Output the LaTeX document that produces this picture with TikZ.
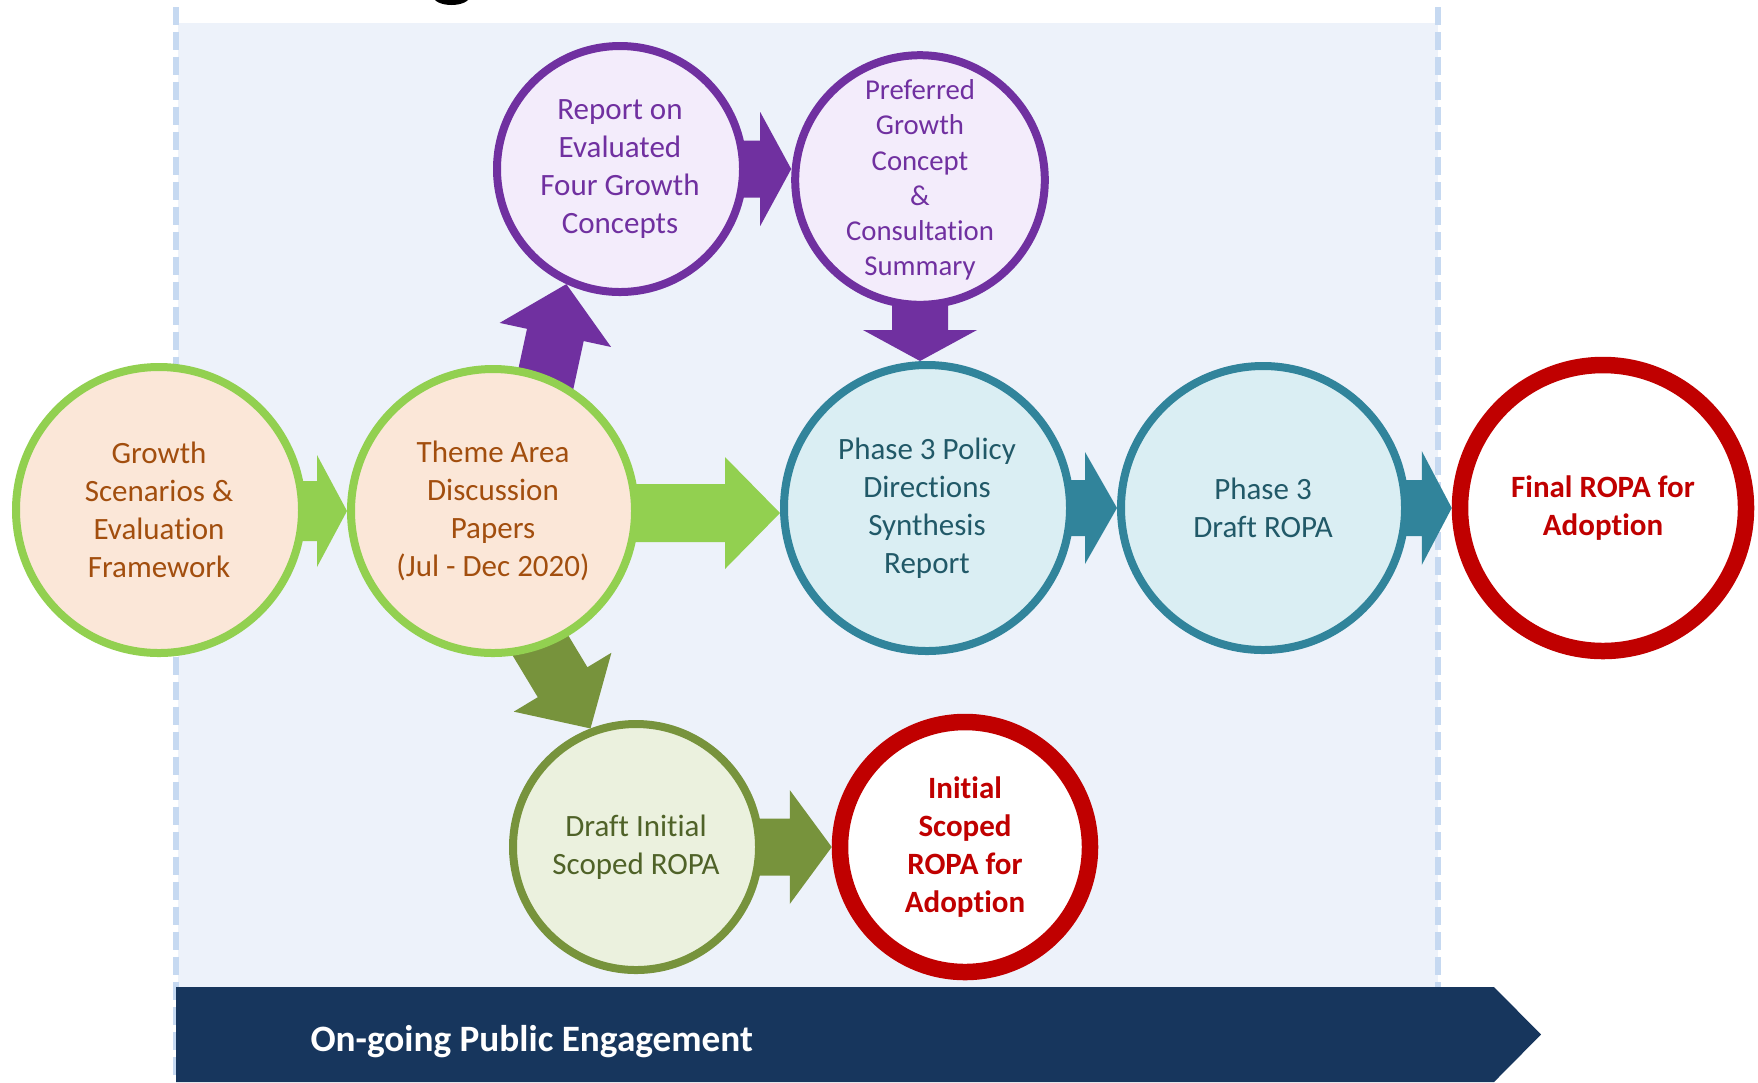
\documentclass[tikz,border=0pt]{standalone}
\usepackage{fontspec}
\setmainfont{Carlito}[Ligatures=NoCommon]
\usetikzlibrary{calc}
\pgfdeclarelayer{bglayer}
\pgfdeclarelayer{arrlayer}
\pgfsetlayers{bglayer,arrlayer,main}
\definecolor{panelc}{HTML}{EDF2FA}
\definecolor{dashc}{HTML}{C6D9F1}
\definecolor{gring}{HTML}{92D050}
\definecolor{peach}{HTML}{FBE7D8}
\definecolor{browntxt}{HTML}{A24E0E}
\definecolor{purp}{HTML}{7030A0}
\definecolor{lav}{HTML}{F3ECFB}
\definecolor{teal}{HTML}{31849B}
\definecolor{tealfill}{HTML}{DAEEF3}
\definecolor{tealtxt}{HTML}{215968}
\definecolor{olive}{HTML}{77933C}
\definecolor{olivefill}{HTML}{EBF1DE}
\definecolor{olivetxt}{HTML}{4F6228}
\definecolor{redc}{HTML}{C00000}
\definecolor{navy}{HTML}{17365D}
% block arrow: color, tip, angle, total length, head length, shaft half width, head half width
\newcommand{\blockarr}[7]{%
  \begin{scope}[shift={(#2)}, rotate=#3]
    \fill[#1] (0,0) -- (-#5,#7) -- (-#5,#6) -- (-#4,#6) -- (-#4,-#6) -- (-#5,-#6) -- (-#5,-#7) -- cycle;
  \end{scope}}
\begin{document}
\begin{tikzpicture}[x=0.4pt,y=-0.4pt,
  circ/.style={circle, inner sep=0pt, align=center, line width=3.2pt},
  bodyfont/.style={font=\fontsize{12.4}{15.2}\selectfont},
  greenc/.style={circ, bodyfont, draw=gring, fill=peach, text=browntxt},
  purplec/.style={circ, draw=purp, fill=lav, text=purp},
  tealc/.style={circ, bodyfont, draw=teal, fill=tealfill, text=tealtxt},
  olivec/.style={circ, bodyfont, draw=olive, fill=olivefill, text=olivetxt},
  redcirc/.style={circle, inner sep=0pt, align=center, line width=6.6pt, draw=redc, fill=white, text=redc, font=\fontsize{12.4}{15.2}\selectfont\bfseries},
  dashline/.style={draw=dashc, line width=2.4pt, dash pattern=on 7.2pt off 2.8pt},
  banner/.style={fill=navy},
  bannertext/.style={text=white, font=\fontsize{14.9}{18}\selectfont\bfseries, inner sep=0pt}
]
\useasboundingbox (0,0) rectangle (1758,1082);
\begin{pgfonlayer}{bglayer}
\fill[white] (0,0) rectangle (1758,1082);
% top title fragment
\begin{scope}
  \clip (0,0) rectangle (1758,23);
  \fill[black] (451.5,-4) ellipse [x radius=18.5, y radius=9];
\end{scope}
% panel and dashed lines
\fill[panelc] (178,23) rectangle (1438,987);
\draw[dashline] (175.5,7) -- (175.5,1082);
\draw[dashline] (1438,7) -- (1438,987);
\end{pgfonlayer}

% circles
\node[greenc, minimum size=114.4pt] (growth) at (159,510) {Growth\\Scenarios \&\\Evaluation\\Framework};
\node[greenc, minimum size=113.6pt] (theme) at (493,511) {Theme Area\\Discussion\\Papers\\(Jul - Dec 2020)};
\node[purplec, bodyfont, minimum size=98.4pt] (report) at (620,169) {Report on\\Evaluated\\Four Growth\\Concepts};
\node[purplec, font=\fontsize{11.5}{14.1}\selectfont, minimum size=98.4pt] (pref) at (920,180) {Preferred\\Growth\\Concept\\\&\\Consultation\\Summary};
\node[tealc, minimum size=114.4pt] (pol) at (927,508) {Phase 3 Policy\\Directions\\Synthesis\\Report};
\node[tealc, minimum size=113.6pt] (draft) at (1263,508) {Phase 3\\Draft ROPA};
\node[redcirc, minimum size=114.4pt] (final) at (1603,508) {Final ROPA for\\Adoption};
\node[olivec, minimum size=98.4pt] (dri) at (636,847) {Draft Initial\\Scoped ROPA};
\node[redcirc, minimum size=100pt] (isc) at (965,847) {Initial\\Scoped\\ROPA for\\Adoption};

% block arrows, behind the circles
\begin{pgfonlayer}{arrlayer}
\blockarr{gring}{theme.west}{0}{70}{30}{30}{56}
\blockarr{gring}{$(pol.west)+(0,5)$}{0}{170}{55}{29}{56}
\blockarr{purp}{report.-115.5}{77.8}{130}{52}{29}{57}
\blockarr{olive}{dri.111.7}{-58.9}{130}{54}{29}{57}
\blockarr{olive}{isc.west}{0}{92}{42}{28.5}{57}
\blockarr{purp}{report.center -| pref.west}{0}{68}{31}{28.5}{57}
\blockarr{purp}{pref.center |- pol.north}{-90}{80}{31}{28}{57}
\blockarr{teal}{draft.west}{0}{77}{32}{28}{56}
\blockarr{teal}{final.west}{0}{74}{30}{28}{57}
\end{pgfonlayer}

% banner
\path[banner] (176,987) -- (1494,987) -- (1541,1034.5) -- (1494,1082) -- (176,1082) -- cycle;
\node[bannertext, anchor=base west] (bannerlabel) at (310,1051) {On-going Public Engagement};
\end{tikzpicture}
\end{document}
